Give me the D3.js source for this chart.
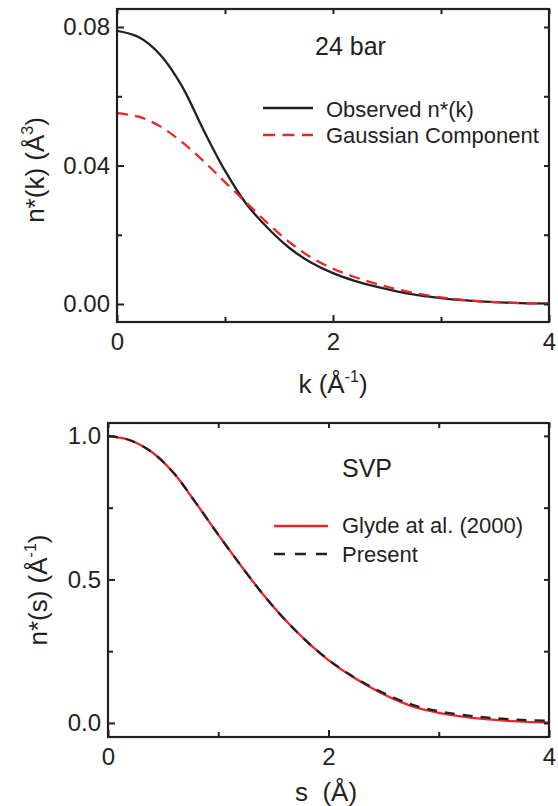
<!DOCTYPE html>
<html>
<head>
<meta charset="utf-8">
<script src="https://cdn.jsdelivr.net/npm/d3@7"></script>
<style>
  html, body { margin: 0; padding: 0; background: #fff; }
  svg { display: block; font-family: "Liberation Sans", Arial, Helvetica, sans-serif; }
  text { fill: #231f20; }
</style>
</head>
<body>
<svg id="chart" width="558" height="806"></svg>
<script>
// ---------- data ----------
const kValues = [0, 0.2, 0.4, 0.6, 0.8, 1.0, 1.2, 1.4, 1.6, 1.8, 2.0, 2.2, 2.4, 2.6, 2.8, 3.0, 3.2, 3.4, 3.6, 3.8, 4.0];
const observedNk = [0.0789, 0.0771, 0.0720, 0.0630, 0.0503, 0.0385, 0.0288, 0.0218, 0.0161, 0.0119, 0.0089, 0.0067, 0.0050, 0.0036, 0.0025, 0.0017, 0.0011, 0.0007, 0.0004, 0.0002, 0.0001];
const gaussianNk = [0.0551, 0.0541, 0.0513, 0.0468, 0.0413, 0.0352, 0.0292, 0.0232, 0.0178, 0.0134, 0.0102, 0.0078, 0.0058, 0.0042, 0.0029, 0.0019, 0.0012, 0.0007, 0.0004, 0.0002, 0.0001];

const sValues = [0, 0.2, 0.4, 0.6, 0.8, 1.0, 1.2, 1.4, 1.6, 1.8, 2.0, 2.2, 2.4, 2.6, 2.8, 3.0, 3.2, 3.4, 3.6, 3.8, 4.0];
const glydeNs = [1.000, 0.985, 0.943, 0.869, 0.765, 0.656, 0.551, 0.451, 0.362, 0.285, 0.219, 0.165, 0.120, 0.082, 0.053, 0.035, 0.023, 0.014, 0.008, 0.004, 0.002];
const presentNs = [1.000, 0.985, 0.943, 0.869, 0.765, 0.656, 0.551, 0.451, 0.362, 0.285, 0.220, 0.167, 0.123, 0.087, 0.059, 0.041, 0.029, 0.020, 0.014, 0.010, 0.007];

const xTicksMajor = [0, 2, 4];
const xTicksMinor = [1, 3];
const topYTicksMajor = [0, 0.04, 0.08];
const topYTicksMinor = [0.02, 0.06];
const botYTicksMajor = [0, 0.5, 1.0];
const botYTicksMinor = [0.25, 0.75];

const topLegend = ["Observed n*(k)", "Gaussian Component"];
const botLegend = ["Glyde at al. (2000)", "Present"];

// ---------- drawing ----------
const svg = d3.select("#chart");
const INK = "#231f20";
const RED = "#e8262b";

function panel(cfg) {
  const g = svg.append("g");
  const x = d3.scaleLinear().domain([0, 4]).range([cfg.left, cfg.right]);
  const y = d3.scaleLinear().domain(cfg.yDomain).range([cfg.bottom, cfg.top]);
  const H = cfg.bottom - cfg.top, W = cfg.right - cfg.left;

  const clipId = "clip" + cfg.id;
  g.append("clipPath").attr("id", clipId).append("rect")
    .attr("x", cfg.left).attr("y", cfg.top).attr("width", W).attr("height", H);

  // curves
  const line = d3.line().x(d => x(d[0])).y(d => y(d[1])).curve(d3.curveCatmullRom.alpha(0.5));
  cfg.series.forEach(s => {
    g.append("path")
      .attr("clip-path", `url(#${clipId})`)
      .attr("d", line(s.xs.map((v, i) => [v, s.ys[i]])))
      .attr("fill", "none")
      .attr("stroke", s.color)
      .attr("stroke-width", 2.3)
      .attr("stroke-dasharray", s.dash || null);
  });

  // axes with inward ticks
  function styleAxis(sel) {
    sel.select(".domain").remove();
    sel.selectAll(".tick line").attr("stroke", INK).attr("stroke-width", 2);
    sel.selectAll(".tick text").attr("fill", INK).style("font-size", "24px")
      .style("font-family", '"Liberation Sans", Arial, sans-serif');
  }
  const tickMaj = 7, tickMin = 5;
  g.append("g").attr("transform", `translate(0,${cfg.bottom})`)
    .call(d3.axisBottom(x).tickValues(xTicksMajor).tickSize(-tickMaj).tickPadding(tickMaj + 4).tickFormat(d3.format("d")))
    .call(styleAxis);
  g.append("g").attr("transform", `translate(0,${cfg.bottom})`)
    .call(d3.axisBottom(x).tickValues(xTicksMinor).tickSize(-tickMin).tickFormat(""))
    .call(styleAxis);
  g.append("g").attr("transform", `translate(0,${cfg.top})`)
    .call(d3.axisTop(x).tickValues(xTicksMajor.concat(xTicksMinor)).tickSize(-tickMin).tickFormat(""))
    .call(styleAxis);
  g.append("g").attr("transform", `translate(${cfg.left},0)`)
    .call(d3.axisLeft(y).tickValues(cfg.yMajor).tickSize(-tickMaj).tickPadding(7).tickFormat(d3.format(cfg.yFmt)))
    .call(styleAxis);
  g.append("g").attr("transform", `translate(${cfg.left},0)`)
    .call(d3.axisLeft(y).tickValues(cfg.yMinor).tickSize(-tickMin).tickFormat(""))
    .call(styleAxis);
  g.append("g").attr("transform", `translate(${cfg.right},0)`)
    .call(d3.axisRight(y).tickValues(cfg.yMajor.concat(cfg.yMinor)).tickSize(-tickMin).tickFormat(""))
    .call(styleAxis);

  // frame
  g.append("rect").attr("x", cfg.left).attr("y", cfg.top).attr("width", W).attr("height", H)
    .attr("fill", "none").attr("stroke", INK).attr("stroke-width", 2.2);

  // annotation
  g.append("text").attr("x", cfg.annX).attr("y", cfg.annY).style("font-size", "25px").text(cfg.annotation);

  // legend
  cfg.legend.forEach((l, i) => {
    g.append("line")
      .attr("x1", cfg.legX1).attr("x2", cfg.legX2)
      .attr("y1", cfg.legLineY[i]).attr("y2", cfg.legLineY[i])
      .attr("stroke", l.color).attr("stroke-width", 2.3)
      .attr("stroke-dasharray", l.legDash || null);
    g.append("text").attr("x", cfg.legTextX).attr("y", cfg.legTextY[i])
      .style("font-size", "22px").text(l.label);
  });

  // x title
  const xt = g.append("text").attr("x", cfg.xTitleX).attr("y", cfg.xTitleY)
    .attr("text-anchor", "middle").style("font-size", "26px").style("white-space", "pre");
  cfg.xTitle.forEach(p => {
    const t = xt.append("tspan").text(p.t);
    if (p.sup) t.attr("dy", -11).style("font-size", "16px");
    if (p.after) t.attr("dy", 11);
  });
  // y title
  const yt = g.append("text")
    .attr("transform", `translate(${cfg.yTitleX},${cfg.yTitleY}) rotate(-90)`)
    .attr("text-anchor", "middle").style("font-size", "26px");
  cfg.yTitle.forEach(p => {
    const t = yt.append("tspan").text(p.t);
    if (p.sup) t.attr("dy", -11).style("font-size", "16px");
    if (p.after) t.attr("dy", 11);
  });
}

panel({
  id: "top", left: 117, right: 549, top: 9, bottom: 322,
  yDomain: [-0.0052, 0.0852], yMajor: topYTicksMajor, yMinor: topYTicksMinor, yFmt: ".2f",
  series: [
    { xs: kValues, ys: observedNk, color: INK },
    { xs: kValues, ys: gaussianNk, color: RED, dash: "11,7" }
  ],
  annotation: "24 bar", annX: 315, annY: 55,
  legend: [
    { label: topLegend[0], color: INK },
    { label: topLegend[1], color: RED, legDash: "12,7.5" }
  ],
  legX1: 263, legX2: 313, legLineY: [108, 135], legTextX: 326, legTextY: [117, 143],
  xTitle: [{ t: "k (Å" }, { t: "-1", sup: true }, { t: ")", after: true }],
  xTitleX: 333, xTitleY: 393,
  yTitle: [{ t: "n*(k) (Å" }, { t: "3", sup: true }, { t: ")", after: true }],
  yTitleX: 44, yTitleY: 170
});

panel({
  id: "bot", left: 108, right: 549, top: 423, bottom: 737,
  yDomain: [-0.049, 1.045], yMajor: botYTicksMajor, yMinor: botYTicksMinor, yFmt: ".1f",
  series: [
    { xs: sValues, ys: glydeNs, color: RED },
    { xs: sValues, ys: presentNs, color: INK, dash: "10,8" }
  ],
  annotation: "SVP", annX: 342, annY: 477,
  legend: [
    { label: botLegend[0], color: RED },
    { label: botLegend[1], color: INK, legDash: "11,10" }
  ],
  legX1: 274, legX2: 328, legLineY: [526, 554], legTextX: 342, legTextY: [533, 562],
  xTitle: [{ t: "s  (Å)" }],
  xTitleX: 326, xTitleY: 801,
  yTitle: [{ t: "n*(s) (Å" }, { t: "-1", sup: true }, { t: ")", after: true }],
  yTitleX: 47, yTitleY: 590
});
</script>
</body>
</html>
